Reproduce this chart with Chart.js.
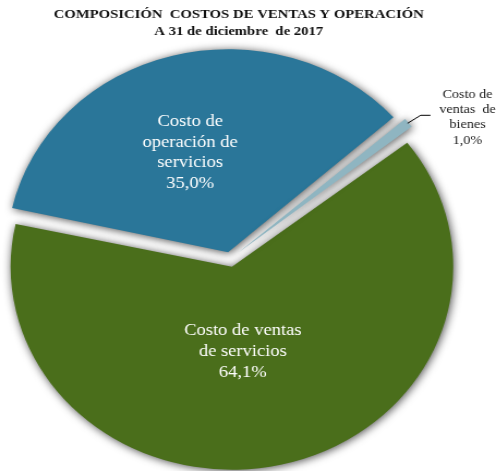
<!DOCTYPE html>
<html>
<head>
<meta charset="utf-8">
<script src="https://cdn.jsdelivr.net/npm/chart.js@4"></script>
<style>
  html, body { margin: 0; padding: 0; background: #ffffff; overflow: hidden; }
  #wrap {
    width: 455px; height: 471px; position: relative;
    transform: scaleX(1.0901); transform-origin: 0 0;
  }
</style>
</head>
<body>
<div id="wrap"><canvas id="chart"></canvas></div>
<script>
// Composición de costos de ventas y operación, 31/12/2017
const categories = [
  'Costo de ventas de servicios',
  'Costo de operación de servicios',
  'Costo de ventas de bienes'
];
const labelLines = [
  ['Costo de ventas', 'de servicios'],
  ['Costo de', 'operación de', 'servicios'],
  ['Costo de', 'ventas  de', 'bienes']
];
const values = [64.1, 35.0, 1.0];
const colors = ['#4a6e1b', '#2a7699', '#8fb5c1'];
const titleLines = ['COMPOSICIÓN  COSTOS DE VENTAS Y OPERACIÓN', 'A 31 de diciembre  de 2017'];

const PIE_RADIUS = 203;
const serif = '"Liberation Serif", "Times New Roman", serif';
const fmt = v => v.toFixed(1).replace('.', ',') + '%';

// ArcElement pushes a slice out by offset/4 and also grows its radius by
// (offset/4)*fix; these helpers follow that rule.
function shiftOf(arc) {
  return (arc.options.offset || 0) / 4;
}
function growOf(arc) {
  const circ = arc.endAngle - arc.startAngle;
  const fix = 1 - Math.sin(Math.min(Math.PI, circ || 0));
  return shiftOf(arc) * fix;
}

// keep every exploded slice at the same drawn radius
const equalRadiusPlugin = {
  id: 'equalRadius',
  afterDatasetsUpdate(chart) {
    chart.getDatasetMeta(0).data.forEach(arc => {
      arc.outerRadius = PIE_RADIUS - growOf(arc);
    });
  }
};

// soft drop shadow around every slice
const shadowPlugin = {
  id: 'sliceShadow',
  beforeDatasetsDraw(chart) {
    const ctx = chart.ctx;
    ctx.save();
    ctx.shadowColor = 'rgba(0,0,0,0.7)';
    ctx.shadowBlur = 8;
    ctx.shadowOffsetX = 1;
    ctx.shadowOffsetY = 1;
  },
  afterDatasetsDraw(chart) {
    chart.ctx.restore();
  }
};

// title and slice labels
const labelPlugin = {
  id: 'sliceLabels',
  afterDraw(chart) {
    const ctx = chart.ctx;
    ctx.save();
    ctx.textAlign = 'center';
    ctx.textBaseline = 'middle';

    ctx.fillStyle = '#111111';
    ctx.font = 'bold 13.5px ' + serif;
    ctx.fillText(titleLines[0], 219, 15);
    ctx.fillText(titleLines[1], 219, 32);

    const meta = chart.getDatasetMeta(0);
    // inside labels: [angle shift from bisector (deg), fraction of radius]
    const inside = [[6, 0.42], [-4.7, 0.52], null];
    meta.data.forEach((arc, i) => {
      const p = arc.getProps(['x', 'y', 'startAngle', 'endAngle', 'outerRadius']);
      const off = shiftOf(arc);
      const r = p.outerRadius + growOf(arc);
      const mid = (p.startAngle + p.endAngle) / 2;
      const cx = p.x + Math.cos(mid) * off;
      const cy = p.y + Math.sin(mid) * off;
      const lines = labelLines[i].concat([fmt(values[i])]);
      if (inside[i]) {
        const a = mid + inside[i][0] * Math.PI / 180;
        const d = inside[i][1] * r;
        const lx = cx + Math.cos(a) * d;
        const ly = cy + Math.sin(a) * d;
        ctx.fillStyle = '#ffffff';
        ctx.font = '17px ' + serif;
        const lh = 20.6;
        lines.forEach((t, k) => {
          ctx.fillText(t, lx, ly + (k - (lines.length - 1) / 2) * lh);
        });
      } else {
        // small slice: leader line to an outside label
        const sx = cx + Math.cos(mid) * (r - 1);
        const sy = cy + Math.sin(mid) * (r - 1);
        const ex = sx + 12, ey = sy - 8;
        const fx = ex + 9;
        ctx.strokeStyle = '#000000';
        ctx.lineWidth = 1;
        ctx.beginPath();
        ctx.moveTo(sx, sy);
        ctx.lineTo(ex, ey);
        ctx.lineTo(fx, ey);
        ctx.stroke();
        ctx.fillStyle = '#1a1a1a';
        ctx.font = '13px ' + serif;
        const lh = 15.3;
        const tx = fx + 34, ty = ey + 2;
        lines.forEach((t, k) => {
          ctx.fillText(t, tx, ty + (k - (lines.length - 1) / 2) * lh);
        });
      }
    });
    ctx.restore();
  }
};

new Chart(document.getElementById('chart'), {
  type: 'pie',
  data: {
    labels: categories,
    datasets: [{
      data: values,
      backgroundColor: colors,
      borderWidth: 0,
      offset: [32, 28, 40],
      clip: false
    }]
  },
  options: {
    responsive: true,
    maintainAspectRatio: false,
    animation: false,
    rotation: 52,
    radius: PIE_RADIUS,
    layout: { padding: { top: 47, bottom: 0, left: 0, right: 33 } },
    plugins: {
      legend: { display: false },
      tooltip: { enabled: false },
      title: { display: false }
    }
  },
  plugins: [equalRadiusPlugin, shadowPlugin, labelPlugin]
});
</script>
</body>
</html>
